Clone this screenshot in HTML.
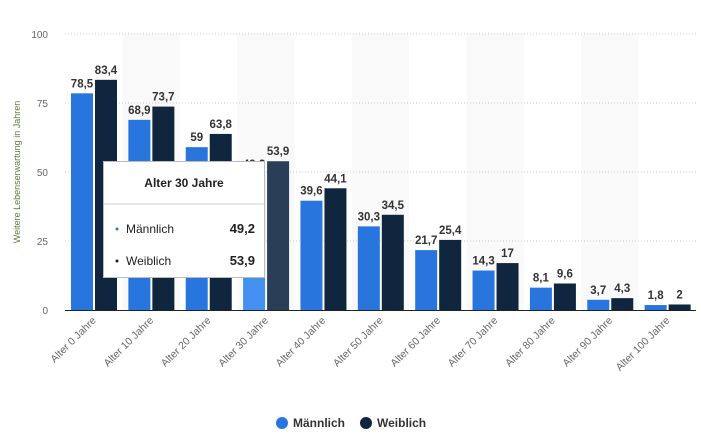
<!DOCTYPE html>
<html><head><meta charset="utf-8"><style>
body{margin:0;background:#fff;font-family:"Liberation Sans",sans-serif}
svg text{font-family:"Liberation Sans",sans-serif}
</style></head><body>
<svg width="701" height="441" id="c"></svg>
<script>
const categories=["Alter 0 Jahre","Alter 10 Jahre","Alter 20 Jahre","Alter 30 Jahre","Alter 40 Jahre","Alter 50 Jahre","Alter 60 Jahre","Alter 70 Jahre","Alter 80 Jahre","Alter 90 Jahre","Alter 100 Jahre"];
const maleValues=[78.5,68.9,59,49.2,39.6,30.3,21.7,14.3,8.1,3.7,1.8];
const femaleValues=[83.4,73.7,63.8,53.9,44.1,34.5,25.4,17,9.6,4.3,2];
const yTicks=[0,25,50,75,100];
const hoverIndex=3;
const svg=document.getElementById('c');
const NS='http://www.w3.org/2000/svg';
const x0=65,x1=696,yB=310,yT=34,step=(x1-x0)/categories.length;
const y=v=>yB-(v/100)*(yB-yT);
const cx=i=>x0+step*i;
function el(t,a,p){const e=document.createElementNS(NS,t);for(const k in a)e.setAttribute(k,a[k]);(p||svg).appendChild(e);return e;}
const fmt=v=>String(v).replace('.',',');
categories.forEach((c,i)=>{if(i%2==1){const r=el('rect',{x:cx(i),y:yT,width:step,height:yB-yT,fill:'#f9f9f9'});

}});
yTicks.forEach(t=>{
 if(t>0){const l=el('line',{x1:x0,x2:x1,y1:y(t),y2:y(t),stroke:'#ccc','stroke-dasharray':'1,2'});
 
 }
 const tx=el('text',{x:48,y:y(t)+4,'text-anchor':'end','font-size':'10',fill:'#666'});tx.textContent=t;
 
 
});
const yt=el('text',{transform:'translate(20,172) rotate(-90)','text-anchor':'middle','font-size':'9',fill:'#5a7a3a'});
yt.textContent='Weitere Lebenserwartung in Jahren';


categories.forEach((c,i)=>{
 const bx=cx(i)+6;
 const mc=i==hoverIndex?'#4390f0':'#2876dd', fc=i==hoverIndex?'#2a3f57':'#10263f';
 const m=el('rect',{x:bx,y:y(maleValues[i]),width:22,height:yB-y(maleValues[i]),fill:mc});
 
 
 const f=el('rect',{x:bx+24,y:y(femaleValues[i]),width:22,height:yB-y(femaleValues[i]),fill:fc});
 
 
 const ml=el('text',{x:bx+11,y:y(maleValues[i])-6,'text-anchor':'middle','font-size':'11.5','font-weight':'bold',fill:'#333'});ml.textContent=fmt(maleValues[i]);
 
 
 const fl=el('text',{x:bx+35,y:y(femaleValues[i])-6,'text-anchor':'middle','font-size':'11.5','font-weight':'bold',fill:'#333'});fl.textContent=fmt(femaleValues[i]);
 
 
 const xl=el('text',{transform:`translate(${cx(i)+step/2+3},${yB+11}) rotate(-45)`,'text-anchor':'end','font-size':'10.5',fill:'#666'});xl.textContent=c;
 
 
});
const ax=el('line',{x1:x0,x2:x1,y1:yB+0.5,y2:yB+0.5,stroke:'#222','stroke-width':1});


const g=el('g',{});


el('rect',{x:103.5,y:161.5,width:161,height:116,fill:'#fff',stroke:'#bbb'},g);
el('line',{x1:104,x2:264,y1:204,y2:204,stroke:'#ccc'},g);
const tt=el('text',{x:184,y:187,'text-anchor':'middle','font-size':'12','font-weight':'bold',fill:'#222'},g);tt.textContent=categories[hoverIndex];
el('circle',{cx:117,cy:229,r:1.5,fill:'#2876dd'},g);
el('circle',{cx:117,cy:261,r:1.5,fill:'#10263f'},g);
const t1=el('text',{x:126,y:233,'font-size':'12',fill:'#222'},g);t1.textContent='Männlich';
const t2=el('text',{x:126,y:265,'font-size':'12',fill:'#222'},g);t2.textContent='Weiblich';
const v1=el('text',{x:255,y:233,'text-anchor':'end','font-size':'13','font-weight':'bold',fill:'#222'},g);v1.textContent=fmt(maleValues[hoverIndex]);
const v2=el('text',{x:255,y:265,'text-anchor':'end','font-size':'13','font-weight':'bold',fill:'#222'},g);v2.textContent=fmt(femaleValues[hoverIndex]);
const lg=el('g',{});


el('circle',{cx:282,cy:423,r:6,fill:'#2876dd'},lg);
const lt1=el('text',{x:293,y:427,'font-size':'12','font-weight':'bold',fill:'#333'},lg);lt1.textContent='Männlich';
el('circle',{cx:366,cy:423,r:6,fill:'#10263f'},lg);
const lt2=el('text',{x:377,y:427,'font-size':'12','font-weight':'bold',fill:'#333'},lg);lt2.textContent='Weiblich';
</script>
</body></html>
